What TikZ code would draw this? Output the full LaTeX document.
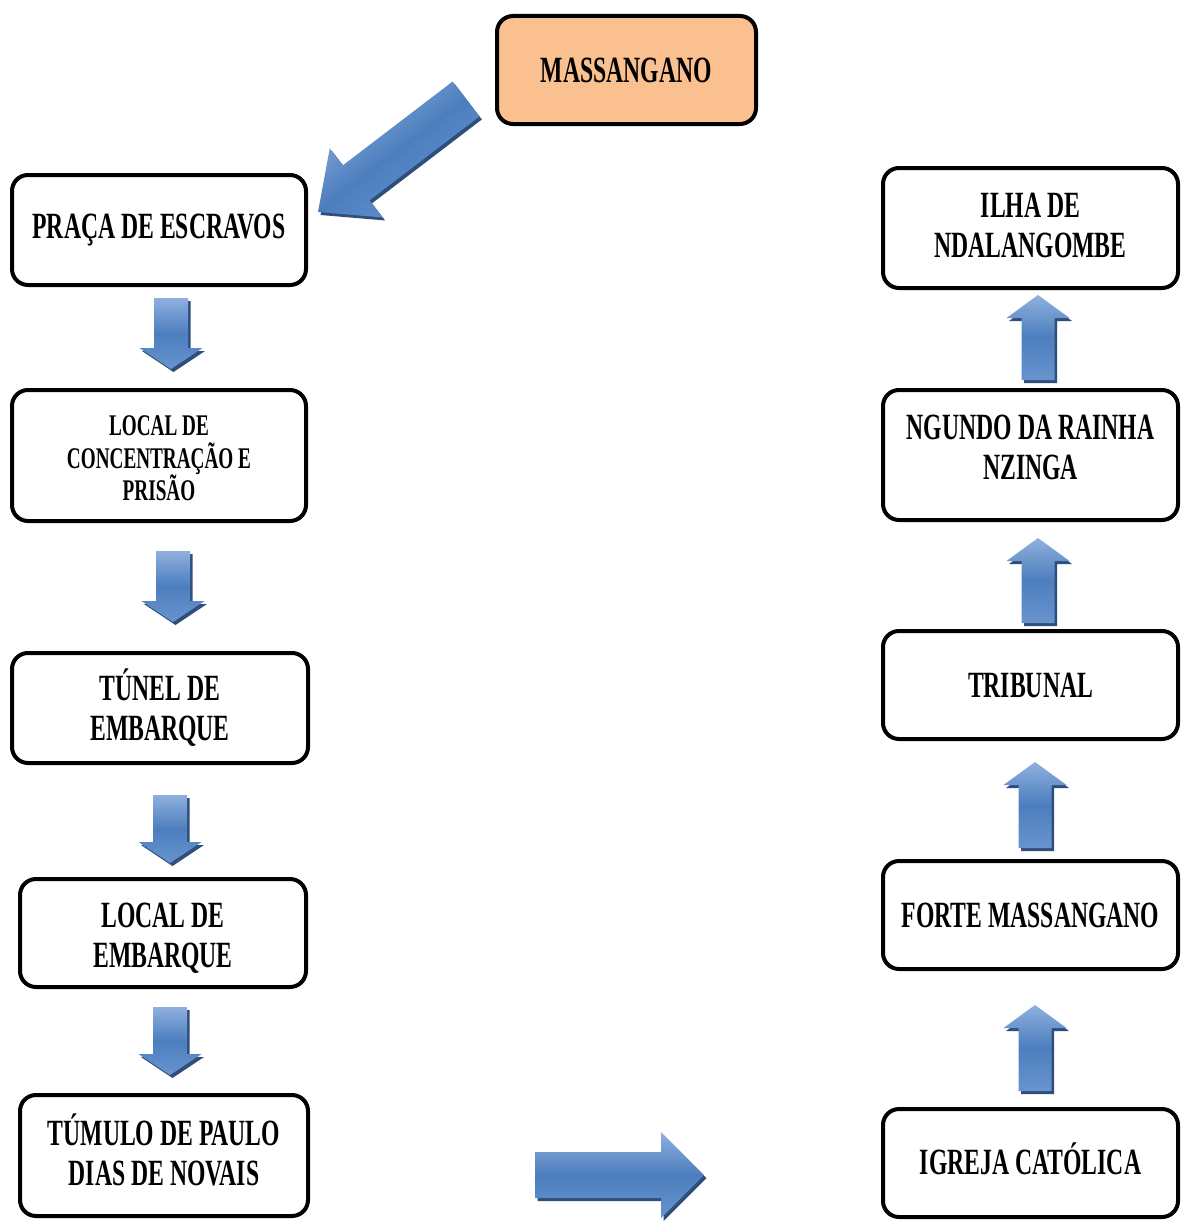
\documentclass[tikz,border=0pt]{standalone}
\usepackage{fontspec}
\newfontfamily\capfont[FakeStretch=0.64]{Liberation Serif}
\definecolor{peach}{RGB}{250,192,144}
\definecolor{arrowtop}{RGB}{143,176,222}
\definecolor{arrowmid}{RGB}{76,126,190}
\definecolor{arrowbot}{RGB}{104,148,206}
\definecolor{arrowshade}{RGB}{48,78,122}

% Block arrow from tail (#2,#3) to tip (#4,#5):
% #6 shaft width, #7 head width, #8 head length, #1 path options
\newcommand\blockarrow[8]{%
  \pgfmathsetmacro\baDx{#4-#2}%
  \pgfmathsetmacro\baDy{#5-#3}%
  \pgfmathsetmacro\baLen{veclen(\baDx,\baDy)}%
  \pgfmathsetmacro\baUx{\baDx/\baLen}%
  \pgfmathsetmacro\baUy{\baDy/\baLen}%
  \pgfmathsetmacro\baPx{-1*(\baUy)}%
  \pgfmathsetmacro\baPy{\baUx}%
  \pgfmathsetmacro\baBx{#4-#8*(\baUx)}%
  \pgfmathsetmacro\baBy{#5-#8*(\baUy)}%
  \pgfmathsetmacro\baSw{#6/2}%
  \pgfmathsetmacro\baHw{#7/2}%
  \path[#1]
    ({#2+\baSw*(\baPx)},{#3+\baSw*(\baPy)})
    -- ({\baBx+\baSw*(\baPx)},{\baBy+\baSw*(\baPy)})
    -- ({\baBx+\baHw*(\baPx)},{\baBy+\baHw*(\baPy)})
    -- (#4,#5)
    -- ({\baBx-\baHw*(\baPx)},{\baBy-\baHw*(\baPy)})
    -- ({\baBx-\baSw*(\baPx)},{\baBy-\baSw*(\baPy)})
    -- ({#2-\baSw*(\baPx)},{#3-\baSw*(\baPy)})
    -- cycle;}

% Shadow plus shaded body
\newcommand\bluearrow[8][0]{%
  \blockarrow{fill=arrowshade, shift={(2.5pt,-3pt)}}{#2}{#3}{#4}{#5}{#6}{#7}{#8}%
  \blockarrow{top color=arrowtop, bottom color=arrowbot, middle color=arrowmid, shading angle=#1}{#2}{#3}{#4}{#5}{#6}{#7}{#8}}

\begin{document}
\begin{tikzpicture}[x=1pt,y=-1pt,
  boxst/.style={draw=black, line width=4pt, rounded corners=16pt, fill=white,
    align=center, inner sep=0pt, text=black,
    font=\capfont\bfseries\fontsize{37}{40}\selectfont},
  boxtext/.style={align=center, inner sep=0pt, text=black,
    font=\capfont\bfseries\fontsize{37}{40}\selectfont},
  smalltext/.style={font=\capfont\bfseries\fontsize{30}{32.5}\selectfont}]
\useasboundingbox (0,0) rectangle (1183,1223);

% Starting point
\node[boxst, fill=peach, minimum width=259pt, minimum height=108pt] (top) at (626.5,70) {MASSANGANO};

% Left column
\node[boxst, minimum width=294pt, minimum height=110pt] (p1) at (159,230) {PRAÇA DE ESCRAVOS};
\node[boxst, minimum width=294pt, minimum height=131pt] (p2) at (159,455.5) {};
\node[boxtext, smalltext] (p2t) at ([yshift=-3pt]p2.center) {LOCAL DE\\CONCENTRAÇÃO E\\PRISÃO};
\node[boxst, minimum width=296pt, minimum height=110pt] (p3) at (160,708) {TÚNEL DE\\EMBARQUE};
\node[boxst, minimum width=286pt, minimum height=108pt] (p4) at (163,933) {};
\node[boxtext] (p4t) at ([yshift=-5pt]p4.center) {LOCAL DE\\EMBARQUE};
\node[boxst, minimum width=288pt, minimum height=121pt] (p5) at (164,1155.5) {};
\node[boxtext] (p5t) at ([yshift=6pt]p5.center) {TÚMULO DE PAULO\\DIAS DE NOVAIS};

% Right column
\node[boxst, minimum width=295pt, minimum height=120pt] (r1) at (1030.5,228) {};
\node[boxtext] (r1t) at ([yshift=3pt]r1.center) {ILHA DE\\NDALANGOMBE};
\node[boxst, minimum width=295pt, minimum height=130pt] (r2) at (1030.5,455) {};
\node[boxtext] (r2t) at ([yshift=8pt]r2.center) {NGUNDO DA RAINHA\\NZINGA};
\node[boxst, minimum width=295pt, minimum height=108pt] (r3) at (1030.5,685) {TRIBUNAL};
\node[boxst, minimum width=295pt, minimum height=108pt] (r4) at (1030.5,915) {FORTE MASSANGANO};
\node[boxst, minimum width=295pt, minimum height=108pt] (r5) at (1030.5,1163) {};
\node[boxtext] (r5t) at ([yshift=4pt]r5.center) {IGREJA CATÓLICA};

% Diagonal arrow from the start box
\bluearrow[37]{466}{99}{318}{212}{44}{87}{48}

% Downward arrows
\bluearrow{171}{298}{171}{369}{34}{63}{21}
\bluearrow{173}{551}{173}{622}{34}{63}{21}
\bluearrow{170}{795}{170}{863}{34}{63}{21}
\bluearrow{170}{1007}{170}{1075}{34}{63}{21}

% Crossing arrow at the bottom
\bluearrow{535}{1175}{704}{1175}{46}{86}{43}

% Upward arrows
\bluearrow{1038}{380}{1038}{295}{33}{63}{23}
\bluearrow{1038}{623}{1038}{538}{33}{63}{23}
\bluearrow{1035}{848}{1035}{762}{33}{63}{23}
\bluearrow{1035}{1091}{1035}{1005}{33}{63}{23}
\end{tikzpicture}
\end{document}
